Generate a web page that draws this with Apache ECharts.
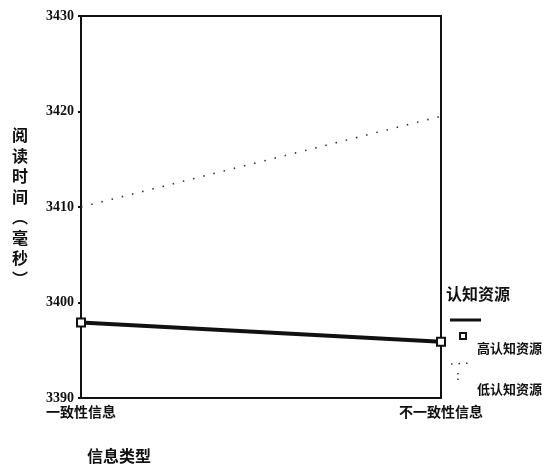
<!DOCTYPE html>
<html>
<head>
<meta charset="utf-8">
<script src="https://cdn.jsdelivr.net/npm/echarts@6/dist/echarts.min.js"></script>
<style>
  html, body { margin: 0; padding: 0; background: #fff; }
  #chart { width: 548px; height: 474px; }
</style>
</head>
<body>
<div id="chart"></div>
<script>
// Reading time by information type, for high vs low cognitive resources
const categories = ['一致性信息', '不一致性信息'];
const highResource = [3397.9, 3395.9];
const lowResource = [3410.0, 3419.5];
const yTicks = { min: 3390, max: 3430, step: 10 };
const seriesNames = ['高认知资源', '低认知资源'];

const cjk = '"Noto Sans CJK SC", "Noto Sans", sans-serif';
const chart = echarts.init(document.getElementById('chart'));

chart.setOption({
  backgroundColor: '#fff',
  animation: false,
  grid: {
    left: 81, right: 107, top: 16, bottom: 76,
    show: true, borderColor: '#111', borderWidth: 2, backgroundColor: 'transparent'
  },
  xAxis: {
    type: 'category',
    data: categories,
    boundaryGap: false,
    axisLine: { lineStyle: { color: '#111', width: 2 } },
    axisTick: { show: false },
    axisLabel: {
      color: '#111', fontFamily: cjk, fontWeight: 'bold', fontSize: 14, margin: 7
    },
    name: '信息类型',
    nameLocation: 'start',
    nameGap: 0,
    nameTextStyle: {
      color: '#111', fontFamily: cjk, fontWeight: 'bold', fontSize: 16,
      verticalAlign: 'top', align: 'left', padding: [50, 0, 0, 6]
    }
  },
  yAxis: {
    type: 'value',
    min: yTicks.min, max: yTicks.max, interval: yTicks.step,
    splitLine: { show: false },
    axisLine: { show: true, lineStyle: { color: '#111', width: 2 } },
    axisTick: { show: true, length: 3, lineStyle: { color: '#111', width: 2 } },
    axisLabel: {
      color: '#111', fontFamily: '"Liberation Serif", serif', fontWeight: 'bold',
      fontSize: 14, margin: 7,
      formatter: v => String(v)
    },
    name: '阅\n读\n时\n间\n︵\n毫\n秒\n︶',
    nameLocation: 'middle',
    nameRotate: 0,
    nameGap: 53,
    nameTextStyle: {
      color: '#111', fontFamily: cjk, fontWeight: 'bold', fontSize: 16, lineHeight: 20.5
    }
  },
  series: [
    {
      name: seriesNames[0],
      type: 'line',
      data: highResource,
      symbol: 'rect',
      symbolSize: 8,
      showAllSymbol: true,
      itemStyle: { color: '#fff', borderColor: '#111', borderWidth: 2 },
      lineStyle: { color: '#111', width: 4 },
      z: 3
    },
    {
      name: seriesNames[1],
      type: 'line',
      data: lowResource,
      symbol: 'none',
      lineStyle: { color: '#333', width: 1.6, type: [1.5, 9] }
    }
  ],
  graphic: [
    { type: 'text', left: 446, top: 286,
      style: { text: '认知资源', font: 'bold 16px ' + cjk, fill: '#111' } },
    { type: 'line', shape: { x1: 450, y1: 320, x2: 481, y2: 320 },
      style: { stroke: '#111', lineWidth: 3 } },
    { type: 'rect', shape: { x: 460, y: 333, width: 6, height: 6 },
      style: { fill: '#fff', stroke: '#111', lineWidth: 2 } },
    { type: 'text', left: 477, top: 342,
      style: { text: seriesNames[0], font: 'bold 13px ' + cjk, fill: '#111' } },
    { type: 'line', shape: { x1: 451, y1: 364, x2: 472, y2: 363 },
      style: { stroke: '#333', lineWidth: 1.5, lineDash: [1.5, 6] } },
    { type: 'line', shape: { x1: 458, y1: 373, x2: 458, y2: 381 },
      style: { stroke: '#333', lineWidth: 1.5, lineDash: [1.5, 4] } },
    { type: 'text', left: 477, top: 383,
      style: { text: seriesNames[1], font: 'bold 13px ' + cjk, fill: '#111' } }
  ]
});
</script>
</body>
</html>
